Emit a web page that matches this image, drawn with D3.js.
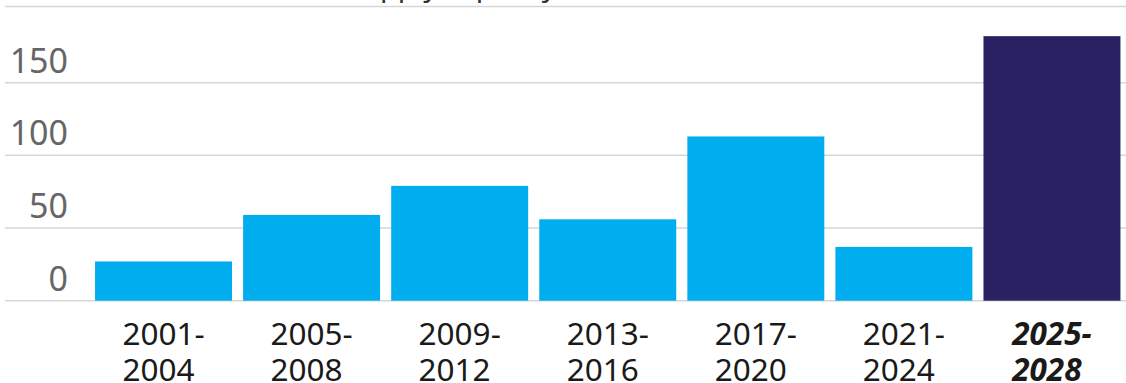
<!DOCTYPE html>
<html>
<head>
<meta charset="utf-8">
<script src="https://cdn.jsdelivr.net/npm/d3@7"></script>
<style>
  body { margin:0; background:#fff; }
  svg { display:block; font-family:"Noto Sans", "Open Sans", sans-serif; }
</style>
</head>
<body>
<svg id="svg-bars" width="1126" height="383"></svg>
<script>
var svg = d3.select("#svg-bars");

// Data
var periods = ["2001-2004", "2005-2008", "2009-2012", "2013-2016", "2017-2020", "2021-2024", "2025-2028"];
var capacity = [27, 59, 79, 56, 113, 37, 182];
var yTicks = [0, 50, 100, 150];
var titleText = "Million tonnes, new LNG supply capacity additions";

// Dimensions
var dim = { w:1126, h:383, left:89.5, right:1126, gridLeft:5, top:10, base:300.7 };

// Colors
var colorPast = "#00aeef";
var colorFuture = "#2a2163";
var colorGrid = "#d6d6d6";

// Scales
var xScale = d3.scaleBand()
               .domain(periods)
               .range([dim.left, dim.right])
               .paddingInner(0.075)
               .paddingOuter(0.0375);
var yScale = d3.scaleLinear()
               .domain([0, 200])
               .range([dim.base, dim.top]);

// Title (cut off at the top of the picture)
var title = svg.append("text")
   .attr("x", 0)
   .attr("y", -4)
   .attr("font-size", 29)
   .attr("fill", "#333")
   .text(titleText);
// line up the "p" of "supply" with the reference
var pIdx = titleText.indexOf("supply") + 2;
var pX = title.node().getStartPositionOfChar(pIdx).x;
title.attr("x", 380 - pX);
svg.append("line")
   .attr("x1", dim.gridLeft).attr("x2", dim.w)
   .attr("y1", 6.5).attr("y2", 6.5)
   .attr("stroke", colorGrid)
   .attr("stroke-width", 1.5);

// Gridlines + y labels
var grid = svg.append("g").attr("id", "grid");
grid.selectAll("line")
    .data(yTicks)
    .enter()
    .append("line")
    .attr("x1", dim.gridLeft).attr("x2", dim.w)
    .attr("y1", function(d) { return yScale(d); })
    .attr("y2", function(d) { return yScale(d); })
    .attr("stroke", colorGrid)
    .attr("stroke-width", 1.5);
grid.selectAll("text")
    .data(yTicks)
    .enter()
    .append("text")
    .attr("x", 68)
    .attr("y", function(d) { return yScale(d) - 10; })
    .attr("text-anchor", "end")
    .attr("font-size", 34)
    .attr("fill", "#666")
    .text(function(d) { return d; });

// Bars
svg.append("g")
   .attr("id", "group_bars")
   .selectAll("rect")
   .data(periods)
   .enter()
   .append("rect")
   .attr("x", function(d) { return xScale(d); })
   .attr("width", xScale.bandwidth())
   .attr("y", function(d, i) { return yScale(capacity[i]); })
   .attr("height", function(d, i) { return yScale(0) - yScale(capacity[i]); })
   .attr("fill", function(d, i) { return i == periods.length - 1 ? colorFuture : colorPast; });

// X labels - two lines, left aligned, block centred under bar
var labels = svg.append("g").attr("id", "xlabels");
periods.forEach(function(p, i) {
  var parts = p.split("-");
  var last = i == periods.length - 1;
  var t = labels.append("text")
                .attr("font-size", 31.5)
                .attr("fill", "#1a1a1a")
                .attr("font-weight", last ? "bold" : "normal")
                .attr("font-style", last ? "italic" : "normal");
  var l1 = t.append("tspan").attr("y", 345).text(parts[0] + "-");
  var l2 = t.append("tspan").attr("y", 381).text(parts[1]);
  var w = l1.node().getComputedTextLength();
  var x0 = xScale(p) + xScale.bandwidth() / 2 - w / 2;
  l1.attr("x", x0);
  l2.attr("x", x0);
});
</script>
</body>
</html>
